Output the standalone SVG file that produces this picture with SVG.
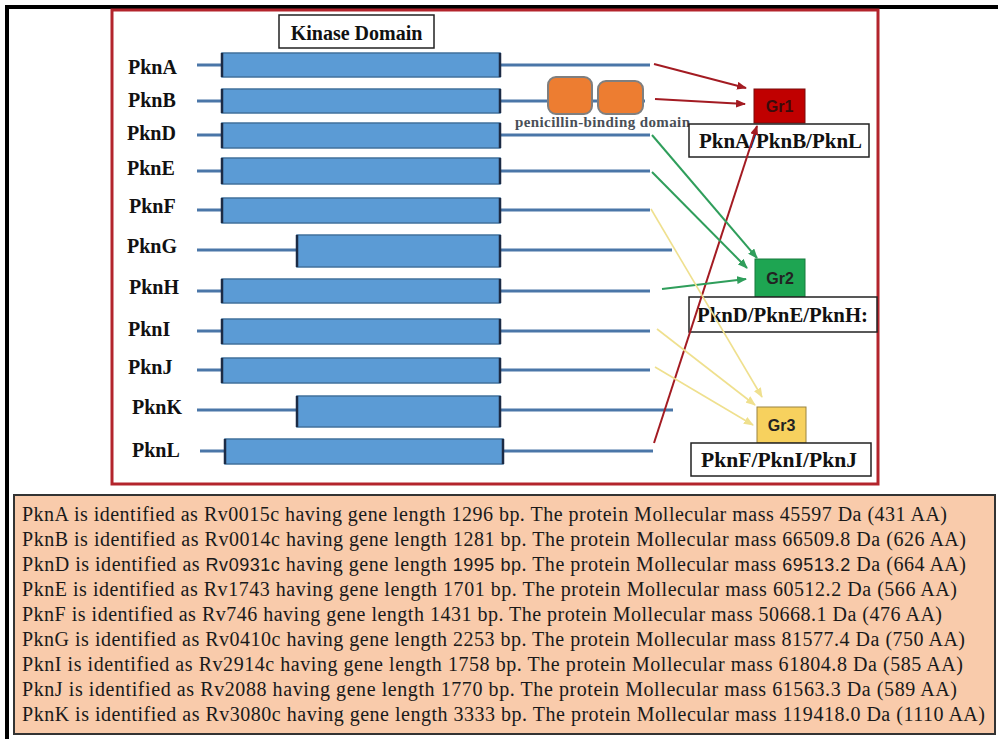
<svg xmlns="http://www.w3.org/2000/svg" width="998" height="739" viewBox="0 0 998 739">
<style>
.lbl{font-family:"Liberation Serif","Times New Roman",serif;font-weight:bold;font-size:20px;fill:#111}
.pbd{font-family:"Liberation Serif","Times New Roman",serif;font-weight:bold;font-size:15px;fill:#4a4f57}
.bar{fill:#5b9bd5;stroke:#41719c;stroke-width:1.5}
.tick{stroke:#1c2b45;stroke-width:2.5}
.stem{stroke:#4a76a8;stroke-width:3;fill:none}
.box{fill:#fff;stroke:#222;stroke-width:1.5}
.grt{font-family:"Liberation Sans",Arial,sans-serif;font-weight:bold;font-size:16px;fill:#222;text-anchor:middle}
.desc{font-family:"Liberation Serif","Times New Roman",serif;font-size:20px;fill:#1a1a1a}
.sans{font-family:"Liberation Sans",Arial,sans-serif;font-size:18px}
.red{stroke:#a31b22;stroke-width:2;fill:none}
.grn{stroke:#2f9e5b;stroke-width:2;fill:none}
.yel{stroke:#efe08e;stroke-width:1.6;fill:none}
</style>
<defs>
<marker id="ar" markerWidth="10" markerHeight="8" refX="9" refY="4" orient="auto" markerUnits="userSpaceOnUse"><path d="M0,0 L10,4 L0,8 Z" fill="#a31b22"/></marker>
<marker id="ag" markerWidth="10" markerHeight="8" refX="9" refY="4" orient="auto" markerUnits="userSpaceOnUse"><path d="M0,0 L10,4 L0,8 Z" fill="#2f9e5b"/></marker>
<marker id="ay" markerWidth="10" markerHeight="8" refX="9" refY="4" orient="auto" markerUnits="userSpaceOnUse"><path d="M0,0 L10,4 L0,8 Z" fill="#efe08e"/></marker>
</defs>
<rect width="998" height="739" fill="#fff"/>
<path d="M7,739 V7 H998" fill="none" stroke="#000" stroke-width="4"/>
<rect x="112" y="10" width="766" height="474" fill="#fff" stroke="#b3242c" stroke-width="3"/>

<g id="kinase-domain">
<rect x="279" y="15" width="155" height="33" class="box"/>
<text x="356.5" y="40" class="lbl" text-anchor="middle">Kinase Domain</text>
</g>

<g id="pknA"><text x="128" y="74" class="lbl">PknA</text><path class="stem" d="M197,65 H222 M500,65 H650"/><rect class="bar" x="222" y="53" width="278" height="24"/><path class="tick" d="M222,53 V77 M500,53 V77"/></g>
<g id="pknB"><text x="128" y="107" class="lbl">PknB</text><path class="stem" d="M197,101 H222 M500,101 H645"/><rect class="bar" x="222" y="89" width="278" height="24"/><path class="tick" d="M222,89 V113 M500,89 V113"/></g>
<g id="penicillin-binding-domain">
<rect x="548" y="77" width="44" height="37" rx="8" fill="#ed7d31" stroke="#7f7f7f" stroke-width="2"/>
<rect x="598" y="81" width="45" height="33" rx="8" fill="#ed7d31" stroke="#7f7f7f" stroke-width="2"/>
<text x="515" y="127" class="pbd" textLength="175" lengthAdjust="spacing">penicillin-binding  domain</text>
</g>
<g id="pknD"><text x="127" y="140" class="lbl">PknD</text><path class="stem" d="M197,135 H222 M500,135 H650"/><rect class="bar" x="222" y="123" width="278" height="25"/><path class="tick" d="M222,123 V148 M500,123 V148"/></g>
<g id="pknE"><text x="127" y="175" class="lbl">PknE</text><path class="stem" d="M197,171 H222 M500,171 H650"/><rect class="bar" x="222" y="158" width="278" height="26"/><path class="tick" d="M222,158 V184 M500,158 V184"/></g>
<g id="pknF"><text x="129" y="213" class="lbl">PknF</text><path class="stem" d="M197,210 H222 M500,210 H650"/><rect class="bar" x="222" y="198" width="278" height="25"/><path class="tick" d="M222,198 V223 M500,198 V223"/></g>
<g id="pknG"><text x="127" y="253" class="lbl">PknG</text><path class="stem" d="M197,250 H297 M500,250 H672"/><rect class="bar" x="297" y="235" width="203" height="32"/><path class="tick" d="M297,235 V267 M500,235 V267"/></g>
<g id="pknH"><text x="129" y="294" class="lbl">PknH</text><path class="stem" d="M197,291 H222 M500,291 H650"/><rect class="bar" x="222" y="279" width="278" height="24"/><path class="tick" d="M222,279 V303 M500,279 V303"/></g>
<g id="pknI"><text x="128" y="336" class="lbl">PknI</text><path class="stem" d="M197,331 H222 M500,331 H650"/><rect class="bar" x="222" y="319" width="278" height="25"/><path class="tick" d="M222,319 V344 M500,319 V344"/></g>
<g id="pknJ"><text x="128" y="374" class="lbl">PknJ</text><path class="stem" d="M197,370 H222 M500,370 H650"/><rect class="bar" x="222" y="358" width="278" height="25"/><path class="tick" d="M222,358 V383 M500,358 V383"/></g>
<g id="pknK"><text x="132" y="414" class="lbl">PknK</text><path class="stem" d="M197,410 H297 M500,410 H673"/><rect class="bar" x="297" y="396" width="203" height="31"/><path class="tick" d="M297,396 V427 M500,396 V427"/></g>
<g id="pknL"><text x="132" y="457" class="lbl">PknL</text><path class="stem" d="M200,451 H225 M503,451 H653"/><rect class="bar" x="225" y="439" width="278" height="25"/><path class="tick" d="M225,439 V464 M503,439 V464"/></g>

<g id="gr1">
<rect x="754" y="89" width="51" height="34" fill="#c00000" stroke="#7a0d0d" stroke-width="1"/>
<text x="779.5" y="112" class="grt" style="fill:#3a0b0b">Gr1</text>
<rect x="689" y="124" width="180" height="33" class="box"/>
<text x="699" y="148" class="lbl" textLength="163" lengthAdjust="spacingAndGlyphs">PknA/PknB/PknL</text>
</g>
<g id="gr2">
<rect x="755" y="259" width="50" height="38" fill="#1ea552" stroke="#167a3c" stroke-width="1"/>
<text x="780" y="284" class="grt">Gr2</text>
<rect x="689" y="297" width="188" height="35" class="box"/>
<text x="697" y="322" class="lbl" textLength="171" lengthAdjust="spacingAndGlyphs">PknD/PknE/PknH:</text>
</g>
<g id="gr3">
<rect x="757" y="407" width="49" height="36" fill="#f7d15e" stroke="#9a8440" stroke-width="1"/>
<text x="781.5" y="431" class="grt">Gr3</text>
<rect x="691" y="443" width="180" height="33" class="box"/>
<text x="701" y="467" class="lbl" textLength="156" lengthAdjust="spacingAndGlyphs">PknF/PknI/PknJ</text>
</g>

<g id="connectors">
<line class="red" x1="654" y1="64" x2="746" y2="88" marker-end="url(#ar)"/>
<line class="red" x1="655" y1="99" x2="745" y2="104" marker-end="url(#ar)"/>
<line class="red" x1="654" y1="443" x2="757" y2="126" marker-end="url(#ar)"/>
<line class="grn" x1="652" y1="135" x2="757" y2="258" marker-end="url(#ag)"/>
<line class="grn" x1="652" y1="172" x2="747" y2="268" marker-end="url(#ag)"/>
<line class="grn" x1="662" y1="289" x2="746" y2="279" marker-end="url(#ag)"/>
<line class="yel" x1="651" y1="209" x2="762" y2="397" marker-end="url(#ay)"/>
<line class="yel" x1="657" y1="329" x2="755" y2="405" marker-end="url(#ay)"/>
<line class="yel" x1="655" y1="367" x2="753" y2="425" marker-end="url(#ay)"/>
</g>

<g id="description">
<rect x="14" y="495" width="981" height="239" fill="#f9cbab" stroke="#333" stroke-width="2"/>
<text class="desc" x="22" y="521" textLength="925" lengthAdjust="spacing">PknA is identified  as Rv0015c having gene length 1296 bp. The protein  Mollecular  mass 45597 Da (431 AA)</text>
<text class="desc" x="22" y="546" textLength="944" lengthAdjust="spacing">PknB is identified  as Rv0014c having gene length 1281 bp. The protein  Mollecular  mass 66509.8 Da (626 AA)</text>
<text class="desc" x="22" y="571" textLength="944" lengthAdjust="spacing">PknD is identified  as <tspan class="sans">Rv0931c</tspan> having gene length <tspan class="sans">1995 bp</tspan>. The protein  Mollecular  mass <tspan class="sans">69513.2</tspan> Da (664 AA)</text>
<text class="desc" x="22" y="596" textLength="935" lengthAdjust="spacing">PknE is identified  as Rv1743 having gene length 1701 bp. The protein  Mollecular  mass 60512.2 Da (566 AA)</text>
<text class="desc" x="22" y="621" textLength="920" lengthAdjust="spacing">PknF is identified  as Rv746 having gene length 1431 bp. The protein  Mollecular  mass 50668.1 Da (476 AA)</text>
<text class="desc" x="22" y="646" textLength="943" lengthAdjust="spacing">PknG is identified  as Rv0410c having gene length 2253 bp. The protein  Mollecular  mass 81577.4 Da (750 AA)</text>
<text class="desc" x="22" y="671" textLength="941" lengthAdjust="spacing">PknI is identified  as Rv2914c having gene length 1758 bp. The protein  Mollecular  mass 61804.8 Da (585 AA)</text>
<text class="desc" x="22" y="696" textLength="935" lengthAdjust="spacing">PknJ is identified  as Rv2088 having gene length 1770 bp. The protein  Mollecular  mass 61563.3 Da (589 AA)</text>
<text class="desc" x="22" y="721" textLength="963" lengthAdjust="spacing">PknK is identified  as Rv3080c having gene length 3333 bp. The protein  Mollecular  mass 119418.0 Da (1110 AA)</text>
</g>
</svg>
